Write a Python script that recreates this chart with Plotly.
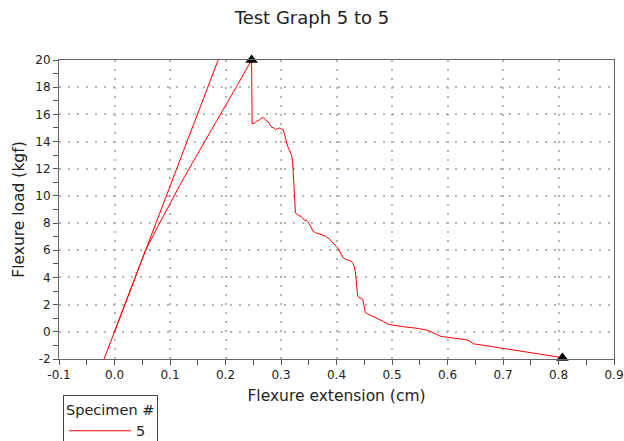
import plotly.graph_objects as go

# ---- data ----
ext_cm = [0, 0.019, 0.037, 0.056, 0.08, 0.10, 0.12, 0.14, 0.16, 0.18, 0.20, 0.22, 0.247,
          0.248, 0.252, 0.256, 0.260, 0.264, 0.268, 0.271, 0.274, 0.277, 0.280, 0.283,
          0.287, 0.29, 0.294, 0.298, 0.301, 0.304,
          0.306, 0.309, 0.312, 0.316, 0.319, 0.321, 0.322, 0.324, 0.326, 0.33, 0.334,
          0.337, 0.340, 0.342, 0.346, 0.349, 0.352, 0.355, 0.358, 0.362, 0.366, 0.371,
          0.376, 0.380, 0.383, 0.387, 0.391, 0.395, 0.400, 0.403, 0.406, 0.409, 0.412,
          0.416, 0.420, 0.424, 0.427, 0.430, 0.432, 0.434, 0.436, 0.438, 0.440, 0.442,
          0.445, 0.447, 0.449, 0.452, 0.456,
          0.46, 0.466, 0.470, 0.475, 0.480, 0.485, 0.490, 0.493, 0.500, 0.509, 0.517,
          0.525, 0.532, 0.539, 0.545, 0.55, 0.556, 0.56, 0.565,
          0.569, 0.574, 0.578, 0.583, 0.587, 0.593, 0.60, 0.608, 0.617, 0.624, 0.63,
          0.636, 0.641, 0.645, 0.647, 0.653, 0.66, 0.666, 0.671, 0.678,
          0.685, 0.693, 0.701, 0.71, 0.72, 0.728, 0.735, 0.742, 0.749, 0.757, 0.765,
          0.772, 0.779, 0.787, 0.795, 0.801, 0.807]
load_kgf = [0, 2, 4, 6, 7.9, 9.45, 10.95, 12.4, 13.85, 15.25, 16.65, 18.05, 20.0,
            15.3, 15.35, 15.5, 15.55, 15.7, 15.78, 15.65, 15.5, 15.45, 15.25, 15.05,
            15.0, 14.88, 14.95, 15.0, 14.92, 14.85,
            14.6, 14.0, 13.65, 13.3, 13.0, 12.5, 11.9, 10.2, 8.75, 8.62, 8.55,
            8.45, 8.35, 8.2, 8.2, 8.1, 7.85, 7.65, 7.4, 7.3, 7.25, 7.2,
            7.14, 7.05, 6.95, 6.85, 6.65, 6.5, 6.28, 6.1, 5.85, 5.6, 5.45,
            5.35, 5.3, 5.22, 5.18, 5.0, 4.8, 4.45, 3.6, 2.65, 2.55, 2.5,
            2.45, 2.4, 2.05, 1.4, 1.32,
            1.25, 1.13, 1.05, 0.95, 0.85, 0.75, 0.65, 0.57, 0.5, 0.42, 0.4,
            0.35, 0.33, 0.28, 0.26, 0.22, 0.2, 0.15, 0.1,
            0.03, -0.05, -0.15, -0.25, -0.32, -0.36, -0.4, -0.42, -0.46, -0.5, -0.55,
            -0.6, -0.71, -0.8, -0.88, -0.92, -0.95, -0.98, -1.02, -1.07,
            -1.12, -1.17, -1.24, -1.29, -1.35, -1.39, -1.43, -1.47, -1.51, -1.55, -1.6,
            -1.64, -1.68, -1.74, -1.8, -1.86, -1.93]

slope_x = [-0.0187, 0.1868]
slope_y = [-2, 20]

marker_x = [0.247, 0.807]
marker_y = [20, -1.93]

x_tickvals = [-0.1, 0.0, 0.1, 0.2, 0.3, 0.4, 0.5, 0.6, 0.7, 0.8, 0.9]
x_ticktext = ["-0.1", "0.0", "0.1", "0.2", "0.3", "0.4", "0.5", "0.6", "0.7", "0.8", "0.9"]
y_tickvals = [-2, 0, 2, 4, 6, 8, 10, 12, 14, 16, 18, 20]
y_ticktext = ["-2", "0", "2", "4", "6", "8", "10", "12", "14", "16", "18", "20"]

FONT = "DejaVu Sans, Verdana, sans-serif"
RED = "#ff0000"
TEXT = "#222222"

fig = go.Figure()
fig.add_trace(go.Scatter(x=slope_x, y=slope_y, mode="lines",
                         line=dict(color=RED, width=1), showlegend=False,
                         hoverinfo="skip"))
fig.add_trace(go.Scatter(x=ext_cm, y=load_kgf, mode="lines", name="5",
                         line=dict(color=RED, width=1)))
fig.add_trace(go.Scatter(x=marker_x, y=marker_y, mode="markers",
                         marker=dict(symbol="triangle-up", size=11, color="black"),
                         showlegend=False, cliponaxis=False))

axis_common = dict(
    showline=True, linecolor="#666666", linewidth=1, mirror=True,
    ticks="outside", ticklen=5, tickcolor="#555555", tickwidth=1,
    showgrid=True, gridcolor="#b8b6a6", gridwidth=1.5, griddash="2px,7px",
    zeroline=False,
    tickfont=dict(family=FONT, size=12, color=TEXT),
)

fig.update_xaxes(range=[-0.1, 0.9], tickmode="array", tickvals=x_tickvals,
                 ticktext=x_ticktext,
                 minor=dict(dtick=0.05, tick0=0, ticks="outside", ticklen=5,
                            tickcolor="#555555", showgrid=False),
                 title=dict(text="Flexure extension (cm)", standoff=8,
                            font=dict(family=FONT, size=15.5, color=TEXT)),
                 **axis_common)
fig.update_yaxes(range=[-2, 20], tickmode="array", tickvals=y_tickvals,
                 ticktext=y_ticktext,
                 minor=dict(dtick=1, tick0=0, ticks="outside", ticklen=5,
                            tickcolor="#555555", showgrid=False),
                 title=dict(text="Flexure load (kgf)", standoff=6,
                            font=dict(family=FONT, size=15.5, color=TEXT)),
                 **axis_common)

fig.update_layout(
    width=624, height=441,
    margin=dict(l=59, r=10, t=60, b=82, autoexpand=False),
    paper_bgcolor="white", plot_bgcolor="white",
    title=dict(text="Test Graph 5 to 5", x=0.5, xref="container",
               y=1 - 18 / 441, yanchor="middle",
               font=dict(family=FONT, size=18, color=TEXT)),
    legend=dict(
        title=dict(text="Specimen #", font=dict(family=FONT, size=14.5, color=TEXT)),
        font=dict(family=FONT, size=14.5, color=TEXT),
        x=(63 - 59) / 555, xanchor="left", y=(359 - 395) / 299, yanchor="top",
        bordercolor="#444444", borderwidth=1, bgcolor="white",
        itemwidth=62, tracegroupgap=0,
    ),
    showlegend=True,
)

fig.write_html("out.html")
